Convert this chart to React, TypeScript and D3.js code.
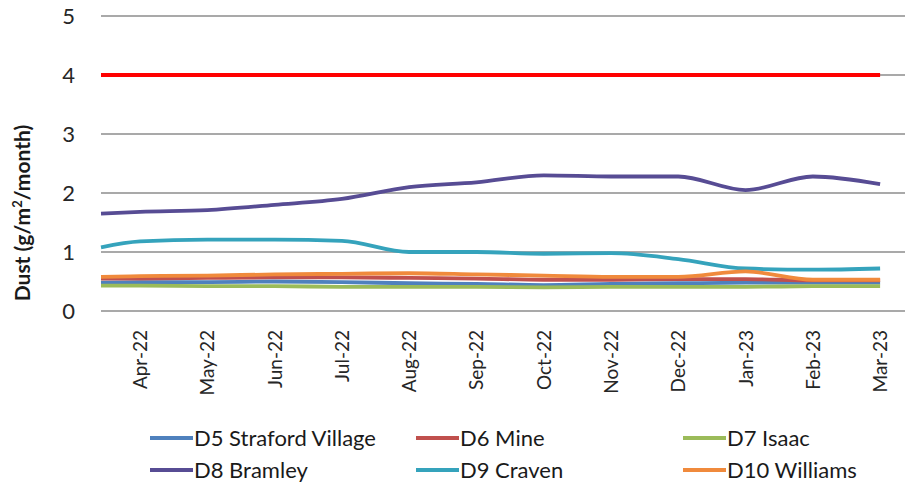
import React from "react";
import * as d3 from "d3";

const monthLabels = ["Apr-22","May-22","Jun-22","Jul-22","Aug-22","Sep-22","Oct-22","Nov-22","Dec-22","Jan-23","Feb-23","Mar-23"];
// position of each sample on the month axis (first sample taken before Apr-22)
const sampleIndex = [-0.58, 0, 1, 2, 3, 4, 5, 6, 7, 8, 9, 10, 11];

const d5 = [0.48, 0.49, 0.49, 0.5, 0.49, 0.47, 0.46, 0.44, 0.46, 0.47, 0.48, 0.48, 0.48];
const d6 = [0.55, 0.55, 0.56, 0.57, 0.57, 0.56, 0.55, 0.53, 0.53, 0.54, 0.54, 0.52, 0.52];
const d7 = [0.43, 0.43, 0.42, 0.42, 0.41, 0.41, 0.41, 0.4, 0.41, 0.41, 0.41, 0.42, 0.42];
const d8 = [1.65, 1.68, 1.71, 1.8, 1.9, 2.1, 2.18, 2.3, 2.28, 2.28, 2.05, 2.28, 2.15];
const d9 = [1.08, 1.18, 1.21, 1.21, 1.19, 1.0, 1.0, 0.97, 0.98, 0.88, 0.72, 0.7, 0.72];
const d10 = [0.58, 0.59, 0.6, 0.62, 0.63, 0.64, 0.62, 0.6, 0.58, 0.58, 0.67, 0.53, 0.53];
const criteria = [4, 4];

const seriesNames = ["D5 Straford Village", "D6 Mine", "D7 Isaac", "D8 Bramley", "D9 Craven", "D10 Williams"];
const seriesValues = [d5, d6, d7, d8, d9, d10];
const seriesColors = ["#4F81BD", "#C0504D", "#9BBB59", "#574C94", "#35A3BC", "#F08A3C"];
const yTicks = [0, 1, 2, 3, 4, 5];

const W = 908, H = 486;
const left = 101, right = 905, top = 16, bottom = 311;

export default function App() {
  const x = d3.scaleLinear().domain([-0.58, 11.37]).range([left, right]);
  const y = d3.scaleLinear().domain([0, 5]).range([bottom, top]);
  const line = d3.line<number>()
    .x((_, i) => x(sampleIndex[i]))
    .y((v) => y(v))
    .curve(d3.curveMonotoneX);
  const critLine = d3.line<number>()
    .x((_, i) => (i === 0 ? left : x(11)))
    .y((v) => y(v));

  const font = "Lato, 'Open Sans', sans-serif";
  const legendCols = [150, 416, 683];
  const legendRows = [438, 470];

  return (
    <svg width={W} height={H} style={{ position: "absolute", left: 0, top: 0, background: "#fff" }} fontFamily={font}>
      {yTicks.map((t) => (
        <g key={t}>
          <line x1={left} x2={right} y1={y(t)} y2={y(t)} stroke="#8C8C8C" strokeWidth={1.6} />
          <text x={75} y={y(t)} dy="0.36em" textAnchor="end" fontSize={22} fill="#262626">{t}</text>
        </g>
      ))}
      <text transform={`translate(30,${213}) rotate(-90)`} textAnchor="middle" fontSize={21} fontWeight="bold" fill="#1a1a1a">
        Dust (g/m<tspan dy="-8" fontSize={13}>2</tspan><tspan dy="8">/month)</tspan>
      </text>
      {monthLabels.map((m, i) => (
        <text key={m} transform={`translate(${x(i) + 7},${330}) rotate(-90)`} textAnchor="end" fontSize={19} fill="#262626">{m}</text>
      ))}
      {seriesValues.map((vals, s) => (
        <path key={s} d={line(vals) || ""} fill="none" stroke={seriesColors[s]} strokeWidth={3.8} strokeLinejoin="round" />
      ))}
      <path d={critLine(criteria) || ""} fill="none" stroke="#FF0000" strokeWidth={4} />
      {seriesNames.map((name, s) => {
        const cx = legendCols[s % 3];
        const cy = legendRows[Math.floor(s / 3)];
        return (
          <g key={name}>
            <line x1={cx} x2={cx + 43} y1={cy} y2={cy} stroke={seriesColors[s]} strokeWidth={3.8} />
            <text x={cx + 44} y={cy} dy="0.35em" fontSize={22} fill="#1a1a1a">{name}</text>
          </g>
        );
      })}
    </svg>
  );
}
